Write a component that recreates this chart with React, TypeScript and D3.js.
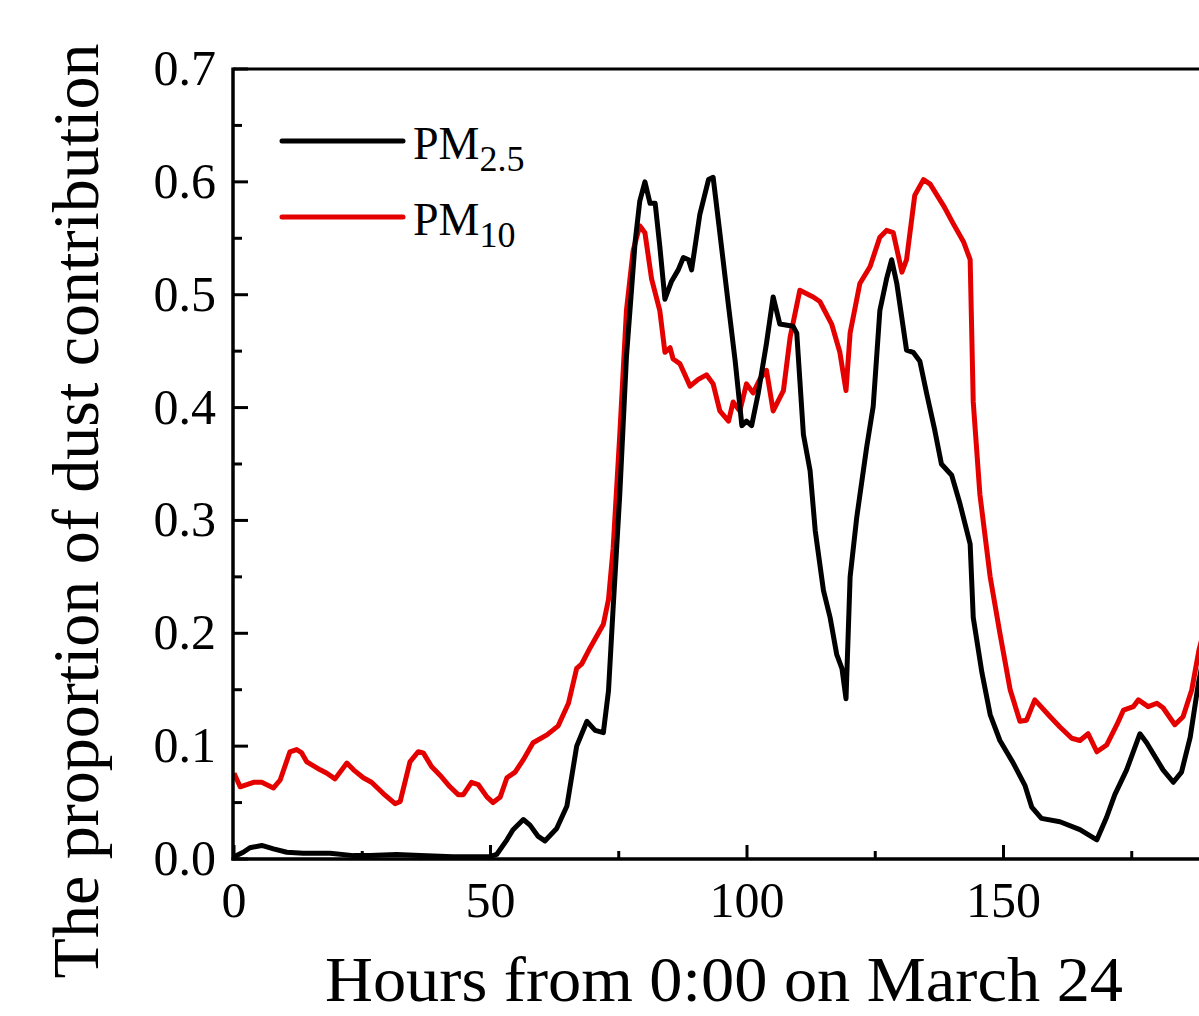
import React from "react";
import * as d3 from "d3";

// hours since 0:00 on March 24
const pm25Hours = [
  0, 1.8, 3.1, 5.4, 7.7, 10.3, 13.5, 18.7, 23.3, 26.5, 31.7, 36.3, 42.7, 49.9, 51.2, 53.2, 54.4, 56.4,
  57.7, 59.3, 60.6, 62.9, 64.9, 66.8, 68.8, 70.4, 72.0, 73.0, 73.9, 75.2, 76.5, 78.2, 79.1, 80.1, 81.1,
  82.1, 83.0, 84.0, 85.3, 86.6, 87.6, 88.6, 89.2, 90.8, 92.5, 93.4, 94.7, 96.4, 97.7, 99.0, 99.9, 100.9,
  102.2, 103.8, 105.1, 106.4, 109.0, 109.7, 111.0, 112.3, 113.3, 114.9, 116.2, 117.5, 118.5, 119.3,
  120.1, 121.4, 123.3, 124.6, 125.9, 127.2, 128.2, 129.2, 131.1, 132.4, 133.7, 135.0, 136.6, 137.9,
  139.9, 141.5, 143.5, 144.1, 145.8, 147.4, 149.3, 151.9, 154.2, 155.5, 157.4, 161.0, 164.9, 168.2,
  170.1, 171.7, 174.0, 176.6, 177.9, 181.1, 183.1, 184.7, 186.4, 188.0, 189.5,
];
const pm25Values = [
  0.002, 0.006, 0.01, 0.012, 0.009, 0.006, 0.005, 0.005, 0.003, 0.003, 0.004, 0.003, 0.002, 0.002,
  0.004, 0.017, 0.026, 0.035, 0.03, 0.02, 0.016, 0.027, 0.047, 0.1, 0.122, 0.114, 0.112, 0.149, 0.222,
  0.323, 0.445, 0.547, 0.583, 0.6, 0.581, 0.581, 0.543, 0.496, 0.512, 0.522, 0.533, 0.531, 0.522,
  0.571, 0.602, 0.604, 0.555, 0.49, 0.441, 0.384, 0.388, 0.384, 0.413, 0.457, 0.498, 0.474, 0.472,
  0.466, 0.376, 0.344, 0.291, 0.238, 0.214, 0.181, 0.169, 0.142, 0.25, 0.303, 0.364, 0.401, 0.486,
  0.514, 0.531, 0.51, 0.451, 0.449, 0.441, 0.413, 0.38, 0.35, 0.34, 0.315, 0.279, 0.214, 0.165, 0.128,
  0.105, 0.085, 0.065, 0.046, 0.036, 0.033, 0.026, 0.017, 0.037, 0.057, 0.079, 0.111, 0.103, 0.079,
  0.068, 0.077, 0.108, 0.156, 0.19,
];

const pm10Hours = [
  0, 1.2, 3.8, 5.4, 7.7, 9.0, 10.9, 12.2, 13.2, 14.2, 16.8, 18.1, 19.7, 22.0, 23.3, 25.2, 26.8, 29.1,
  31.4, 32.4, 34.3, 35.9, 36.9, 38.5, 40.2, 42.1, 43.7, 44.7, 46.3, 47.6, 49.3, 50.5, 51.9, 53.2, 54.8,
  56.4, 58.3, 61.0, 63.2, 65.2, 66.8, 67.8, 69.4, 72.0, 73.0, 73.9, 75.2, 76.5, 77.8, 79.1, 80.1, 81.4,
  83.0, 84.0, 85.0, 85.6, 86.9, 88.9, 90.5, 92.1, 93.4, 94.7, 96.4, 97.3, 98.6, 99.9, 101.2, 102.5,
  103.8, 105.1, 107.1, 108.4, 110.3, 112.9, 114.2, 116.5, 118.1, 119.3, 120.1, 122.0, 124.0, 125.9,
  127.2, 128.5, 130.2, 131.1, 132.7, 134.4, 135.7, 138.3, 140.2, 142.2, 143.5, 144.1, 145.4, 147.4,
  149.3, 151.3, 153.2, 154.5, 156.1, 159.1, 161.0, 163.3, 164.9, 166.5, 168.2, 170.1, 172.1, 173.4,
  175.3, 176.3, 178.2, 179.9, 181.1, 183.4, 185.0, 186.7, 188.1, 189.5,
];
const pm10Values = [
  0.076, 0.064, 0.068, 0.068, 0.063, 0.07, 0.095, 0.097, 0.094, 0.086, 0.079, 0.076, 0.071, 0.085,
  0.079, 0.072, 0.068, 0.058, 0.049, 0.051, 0.086, 0.095, 0.094, 0.082, 0.074, 0.064, 0.057, 0.057,
  0.068, 0.066, 0.055, 0.05, 0.055, 0.072, 0.077, 0.088, 0.103, 0.11, 0.118, 0.138, 0.169, 0.173, 0.187,
  0.208, 0.23, 0.275, 0.376, 0.486, 0.539, 0.561, 0.555, 0.514, 0.486, 0.449, 0.453, 0.443, 0.439,
  0.419, 0.425, 0.429, 0.421, 0.397, 0.388, 0.405, 0.397, 0.421, 0.413, 0.425, 0.433, 0.397, 0.415,
  0.462, 0.504, 0.498, 0.494, 0.474, 0.449, 0.415, 0.466, 0.51, 0.525, 0.551, 0.557, 0.555, 0.52,
  0.531, 0.588, 0.602, 0.598, 0.579, 0.563, 0.547, 0.531, 0.405, 0.323, 0.25, 0.2, 0.15, 0.122, 0.123,
  0.141, 0.126, 0.117, 0.107, 0.105, 0.111, 0.095, 0.101, 0.119, 0.132, 0.135, 0.141, 0.135, 0.138,
  0.134, 0.119, 0.126, 0.15, 0.185, 0.21,
];

const xMajor = [0, 50, 100, 150];
const xMinor = [25, 75, 125, 175];
const yMajor = [0, 0.1, 0.2, 0.3, 0.4, 0.5, 0.6, 0.7];
const yMinor = [0.05, 0.15, 0.25, 0.35, 0.45, 0.55, 0.65];

const FONT = "'Liberation Serif', 'Times New Roman', serif";
const RED = "#e50000";

const App = () => {
  const width = 1199;
  const height = 1016;
  const left = 234;
  const top = 69;
  const bottom = 859;

  // plot box is cut off on the right in the source figure
  const x = d3.scaleLinear().domain([0, 200]).range([left, left + 200 * 5.13]);
  const y = d3.scaleLinear().domain([0, 0.7]).range([bottom, top]);

  const line = d3
    .line<number>()
    .x((d) => x(d))
    .curve(d3.curveLinear);

  const path = (hours: number[], vals: number[]) =>
    line.y((_, i) => y(vals[i]))(hours) || "";

  return (
    <div style={{ position: "absolute", left: 0, top: 0 }}>
      <svg width={width} height={height} style={{ display: "block", background: "#fff" }}>
        <path d={path(pm10Hours, pm10Values)} fill="none" stroke={RED} strokeWidth={5} strokeLinejoin="round" />
        <path d={path(pm25Hours, pm25Values)} fill="none" stroke="#000" strokeWidth={5} strokeLinejoin="round" />

        {/* frame */}
        <line x1={left - 1} x2={width} y1={top} y2={top} stroke="#000" strokeWidth={3} />
        <line x1={left - 1} x2={left - 1} y1={top - 1.5} y2={bottom + 1.5} stroke="#000" strokeWidth={3.5} />
        <line x1={left - 2.5} x2={width} y1={bottom} y2={bottom} stroke="#000" strokeWidth={3.5} />

        {/* y ticks */}
        {yMajor.map((v) => (
          <g key={"ym" + v}>
            <line x1={left} x2={left + 14} y1={y(v)} y2={y(v)} stroke="#000" strokeWidth={3} />
            <text x={216} y={y(v) + 16} textAnchor="end" fontFamily={FONT} fontSize={50}>
              {v.toFixed(1)}
            </text>
          </g>
        ))}
        {yMinor.map((v) => (
          <line key={"yn" + v} x1={left} x2={left + 8} y1={y(v)} y2={y(v)} stroke="#000" strokeWidth={3} />
        ))}

        {/* x ticks */}
        {xMajor.map((h) => (
          <g key={"xm" + h}>
            <line x1={x(h)} x2={x(h)} y1={bottom} y2={bottom - 14} stroke="#000" strokeWidth={3} />
            <text x={x(h)} y={917} textAnchor="middle" fontFamily={FONT} fontSize={50}>
              {h}
            </text>
          </g>
        ))}
        {xMinor.map((h) => (
          <line key={"xn" + h} x1={x(h)} x2={x(h)} y1={bottom} y2={bottom - 8} stroke="#000" strokeWidth={3} />
        ))}

        {/* axis titles */}
        <text
          x={724}
          y={1001}
          textAnchor="middle"
          fontFamily={FONT}
          fontSize={64}
          textLength={798}
          lengthAdjust="spacingAndGlyphs"
        >
          Hours from 0:00 on March 24
        </text>
        <text
          transform="translate(98,511) rotate(-90)"
          textAnchor="middle"
          fontFamily={FONT}
          fontSize={66}
        >
          The proportion of dust contribution
        </text>

        {/* legend */}
        <line x1={282} x2={403} y1={141} y2={141} stroke="#000" strokeWidth={5} strokeLinecap="round" />
        <text x={413} y={159} fontFamily={FONT} fontSize={46}>
          PM
          <tspan fontSize={36} dy={12}>2.5</tspan>
        </text>
        <line x1={282} x2={403} y1={217} y2={217} stroke={RED} strokeWidth={5} strokeLinecap="round" />
        <text x={413} y={235} fontFamily={FONT} fontSize={46}>
          PM
          <tspan fontSize={36} dy={12}>10</tspan>
        </text>
      </svg>
    </div>
  );
};

export default App;
